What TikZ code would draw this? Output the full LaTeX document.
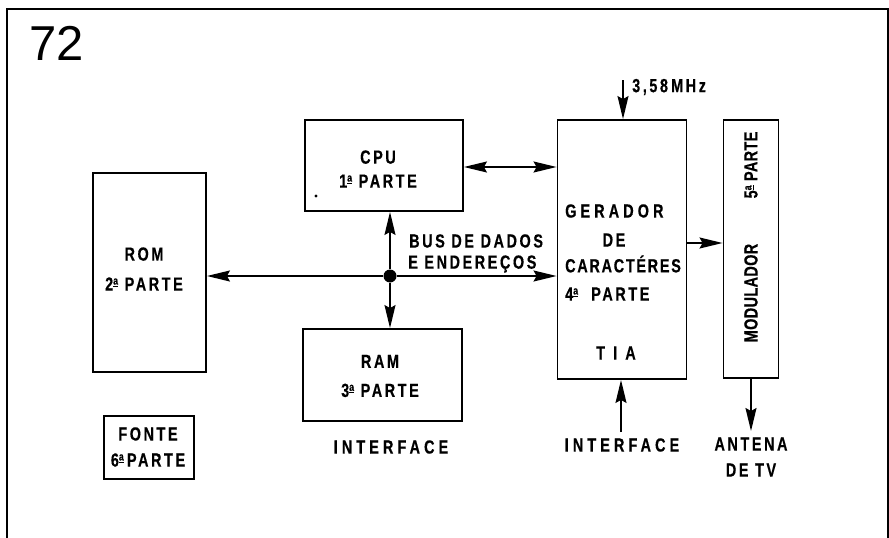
\documentclass[tikz,border=0pt]{standalone}
\usepackage{fontspec}
\setmainfont{Liberation Sans}
\newfontfamily\lab{Liberation Sans}[UprightFont={* Bold}, FakeStretch=0.76, LetterSpace=13.5, FakeBold=0.4]
\newfontfamily\labw{Liberation Sans}[UprightFont={* Bold}, FakeStretch=0.76, LetterSpace=21.5, FakeBold=0.4]
\newfontfamily\labc{Liberation Sans}[UprightFont={* Bold}, FakeStretch=0.76, LetterSpace=9, FakeBold=0.4]
\newfontfamily\labn{Liberation Sans}[UprightFont={* Bold}, FakeStretch=0.76, LetterSpace=2, FakeBold=0.4]
\newcommand\ord{\raisebox{6pt}{\fontsize{11.5}{10}\selectfont\setbox0\hbox{a}\rlap{\rule[-2.4pt]{\wd0}{1.3pt}}\box0}}
\usetikzlibrary{arrows.meta,calc}
\begin{document}
\begin{tikzpicture}[x=1pt,y=-1pt,
  blk/.style={draw, line width=1.9pt, rectangle, inner sep=0pt},
  txt/.style={font=\lab\fontsize{19}{22}\selectfont, inner sep=0pt},
  txtw/.style={font=\labw\fontsize{19}{22}\selectfont, inner sep=0pt},
  txtc/.style={font=\labc\fontsize{19}{22}\selectfont, inner sep=0pt},
  txtn/.style={font=\labn\fontsize{19}{22}\selectfont, inner sep=0pt},
  con/.style={line width=1.5pt, -{Stealth[length=23pt,width=11pt,inset=3pt]}},
  con2/.style={line width=1.5pt, {Stealth[length=23pt,width=11pt,inset=3pt]}-{Stealth[length=23pt,width=11pt,inset=3pt]}}
]
\useasboundingbox (0,0) rectangle (889,538);
% frame
\draw[line width=1.8pt] (7,538) -- (7,9) -- (888,9) -- (888,538);
\node[font=\fontsize{49}{50}\selectfont, inner sep=0pt] (num) at (57,43) {72};

% boxes
\node[blk, minimum width=158pt, minimum height=91pt] (cpu) at (384,165.5) {};
\node[blk, minimum width=113pt, minimum height=199pt] (rom) at (149.5,272.5) {};
\node[blk, minimum width=159pt, minimum height=92pt] (ram) at (382.5,375) {};
\node[blk, minimum width=129pt, minimum height=259pt] (gen) at (622,249.5) {};
\node[blk, minimum width=55pt, minimum height=258pt] (mod) at (751,249) {};
\node[blk, minimum width=90pt, minimum height=63pt] (fonte) at (149,447.5) {};

% texts in boxes
\node[txt, align=center] (cput) at (378,169) {CPU\\[2pt]1\ord\ PARTE};
\fill (316,196) circle (1.6pt);
\node[txt, align=center] (romt) at (144,269) {ROM\\[8pt]2\ord\ PARTE};
\node[txt, align=center] (ramt) at (380,376) {RAM\\[7pt]3\ord\ PARTE};
\node[txtw, anchor=west] (g1) at (565,211) {GERADOR};
\node[txt] (g2) at (614,240) {DE};
\node[txtc, anchor=west] (g3) at (565,264) {CARACTÉRES};
\node[txt, anchor=west] (g4) at (565,294) {4\ord\ \ PARTE};
\node[txtw] (g5) at (616,353) {T I A};
\node[txtn, rotate=90] (m1) at (751,293) {MODULADOR};
\node[txtn, rotate=90] (m2) at (751,165) {5\ord\ PARTE};
\node[txt, align=center] (fontet) at (148,447) {FONTE\\[4pt]6\ord\,PARTE};

% outside labels
\node[txt, anchor=west] (bus1) at (409,241) {BUS DE DADOS};
\node[txt, anchor=west] (bus2) at (408,264) {E ENDEREÇOS};
\node[txt, anchor=west] (mhz) at (632,87) {3,58\,MHz};
\node[txtw] (if1) at (391,447) {INTERFACE};
\node[txtw] (if2) at (622,445) {INTERFACE};
\node[txt, align=center] (ant) at (751,457) {ANTENA\\[4pt]DE TV};

% junction
\node[circle, fill, inner sep=0pt, minimum size=13pt] (junc) at (390,276) {};

% connectors
\draw[con] (junc) -- (junc -| rom.east);
\draw[con] (junc) -- (junc -| gen.west);
\draw[con] (junc) -- (junc |- cpu.south);
\draw[con] (junc) -- (junc |- ram.north);
\coordinate (c1) at (0,167);
\draw[con2] (c1 -| cpu.east) -- (c1 -| gen.west);
\coordinate (c2) at (0,243);
\draw[con] (c2 -| gen.east) -- (c2 -| mod.west);
\coordinate (clk) at (623,80);
\draw[con] (clk) -- (clk |- gen.north);
\coordinate (ifc) at (621,432);
\draw[con] (ifc) -- (ifc |- gen.south);
\coordinate (antc) at (751,431);
\draw[con] (antc |- mod.south) -- (antc);
\end{tikzpicture}
\end{document}
